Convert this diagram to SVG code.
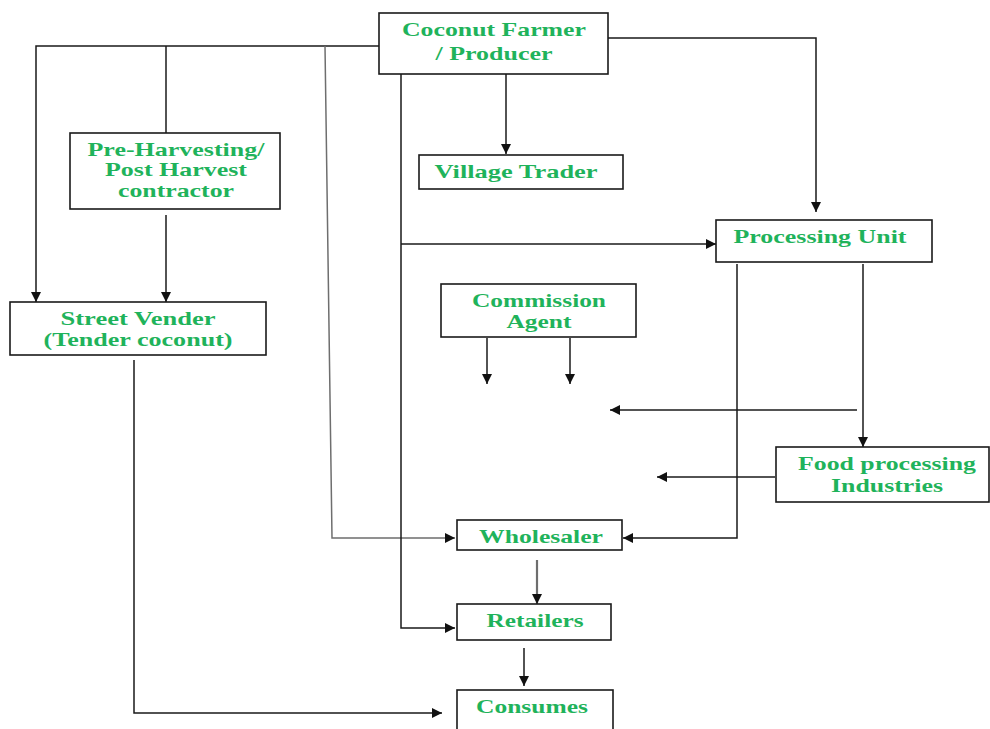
<svg xmlns="http://www.w3.org/2000/svg" width="990" height="729" viewBox="0 0 990 729">
<style>
.box{fill:#fff;stroke:#1a1a1a;stroke-width:1.6}
.t{font-family:"Liberation Serif","Times New Roman",serif;font-weight:bold;font-size:19px;fill:#1fb35b;text-anchor:middle}
.c{fill:none;stroke:#1a1a1a;stroke-width:1.5;marker-end:url(#ah)}
.n{fill:none;stroke:#1a1a1a;stroke-width:1.5}
.g{stroke:#6e6e6e}
</style>
<defs>
<marker id="ah" markerUnits="userSpaceOnUse" markerWidth="11" markerHeight="10" refX="10" refY="5" orient="auto">
<path d="M0,0 L10,5 L0,10 z" fill="#111"/>
</marker>
</defs>
<rect width="990" height="729" fill="#fff"/>
<g id="connectors">
<path class="c" d="M379,46 H36 V302"/>
<path class="n" d="M166,46 V133"/>
<path class="c" d="M166,215 V302"/>
<path class="c g" d="M325,46 L332,538 H455"/>
<path class="c" d="M401,74 V628 H455"/>
<path class="c" d="M401,244 H716"/>
<path class="c" d="M506,74 V154"/>
<path class="c" d="M608,38 H816 V212"/>
<path class="c" d="M737,264 V538 H623"/>
<path class="c" d="M863,264 V447"/>
<path class="c" d="M857,410 H610"/>
<path class="c" d="M775,477 H657"/>
<path class="c" d="M487,338 V384"/>
<path class="c" d="M570,338 V384"/>
<path class="c g" style="stroke-width:2.2" d="M537,560 V604"/>
<path class="c" d="M524,648 V686"/>
<path class="c" d="M134,360 V713 H442"/>
</g>
<g id="farmer">
<rect class="box" x="379" y="13" width="229" height="61"/>
<text class="t" x="494" y="36" textLength="184" lengthAdjust="spacingAndGlyphs">Coconut Farmer</text>
<text class="t" x="494" y="60" textLength="117" lengthAdjust="spacingAndGlyphs">/ Producer</text>
</g>
<g id="contractor">
<rect class="box" x="70" y="133" width="210" height="76"/>
<text class="t" x="176" y="156" textLength="177" lengthAdjust="spacingAndGlyphs">Pre-Harvesting/</text>
<text class="t" x="176" y="176" textLength="142" lengthAdjust="spacingAndGlyphs">Post Harvest</text>
<text class="t" x="176" y="197" textLength="116" lengthAdjust="spacingAndGlyphs">contractor</text>
</g>
<g id="street">
<rect class="box" x="10" y="302" width="256" height="53"/>
<text class="t" x="138" y="325" textLength="155" lengthAdjust="spacingAndGlyphs">Street Vender</text>
<text class="t" x="138" y="346" textLength="189" lengthAdjust="spacingAndGlyphs">(Tender coconut)</text>
</g>
<g id="village">
<rect class="box" x="419" y="155" width="204" height="34"/>
<text class="t" x="516" y="178" textLength="163" lengthAdjust="spacingAndGlyphs">Village Trader</text>
</g>
<g id="processing">
<rect class="box" x="716" y="220" width="216" height="42"/>
<text class="t" x="820" y="243" textLength="173" lengthAdjust="spacingAndGlyphs">Processing Unit</text>
</g>
<g id="commission">
<rect class="box" x="441" y="284" width="195" height="53"/>
<text class="t" x="539" y="307" textLength="134" lengthAdjust="spacingAndGlyphs">Commission</text>
<text class="t" x="539" y="328" textLength="65" lengthAdjust="spacingAndGlyphs">Agent</text>
</g>
<g id="food">
<rect class="box" x="776" y="447" width="213" height="55"/>
<text class="t" x="887" y="470" textLength="178" lengthAdjust="spacingAndGlyphs">Food processing</text>
<text class="t" x="887" y="492" textLength="112" lengthAdjust="spacingAndGlyphs">Industries</text>
</g>
<g id="wholesaler">
<rect class="box" x="457" y="520" width="165" height="30"/>
<text class="t" x="541" y="543" textLength="124" lengthAdjust="spacingAndGlyphs">Wholesaler</text>
</g>
<g id="retailers">
<rect class="box" x="457" y="604" width="154" height="36"/>
<text class="t" x="535" y="627" textLength="97" lengthAdjust="spacingAndGlyphs">Retailers</text>
</g>
<g id="consumes">
<rect class="box" x="457" y="690" width="156" height="45"/>
<text class="t" x="532" y="713" textLength="112" lengthAdjust="spacingAndGlyphs">Consumes</text>
</g>
</svg>
